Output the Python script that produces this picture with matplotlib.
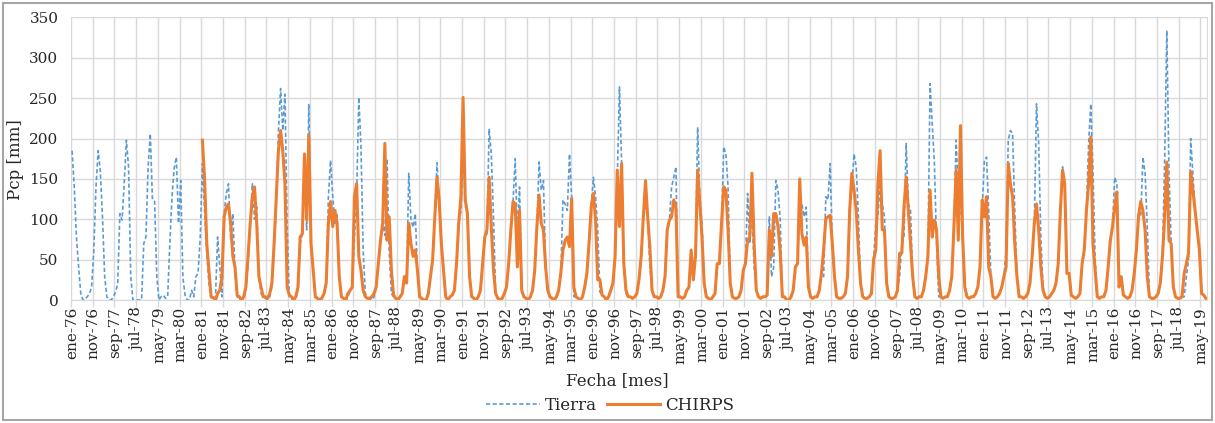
import numpy as np
import matplotlib
matplotlib.use('Agg')
import matplotlib.pyplot as plt
from matplotlib.patches import Rectangle

# Precipitación mensual [mm], ene-1976 ... jul-2019 (una fila por año)
tierra = [
    185, 140, 78, 41, 8, 0, 2, 4, 8, 16, 62, 140,      # 1976
    185, 160, 103, 29, 4, 0, 0, 4, 10, 20, 107, 99,    # 1977
    144, 198, 165, 29, 0, 0, 0, 0, 0, 70, 78, 165,     # 1978
    206, 124, 122, 29, 0, 4, 6, 2, 4, 70, 128, 163,    # 1979
    177, 95, 148, 29, 6, 0, 0, 12, 4, 29, 33, 78,      # 1980
    169, 110, 60, 20, 4, 0, 2, 78, 41, 4, 107, 132,    # 1981
    144, 74, 107, 37, 4, 0, 0, 2, 10, 45, 95, 144,     # 1982
    100, 115, 29, 8, 4, 2, 0, 4, 16, 60, 119, 210,     # 1983
    262, 210, 255, 95, 4, 2, 0, 2, 12, 70, 82, 165,    # 1984
    87, 243, 70, 37, 4, 2, 0, 4, 8, 21, 128, 173,      # 1985
    128, 95, 107, 29, 4, 2, 0, 4, 12, 16, 78, 128,     # 1986
    251, 190, 62, 8, 4, 2, 0, 4, 16, 45, 74, 95,       # 1987
    80, 175, 60, 8, 4, 2, 0, 4, 8, 29, 21, 157,        # 1988
    100, 90, 107, 37, 4, 2, 0, 0, 8, 29, 50, 103,      # 1989
    170, 124, 70, 37, 4, 0, 4, 6, 12, 45, 95, 110,     # 1990
    175, 130, 107, 29, 4, 2, 0, 4, 12, 45, 78, 82,     # 1991
    212, 181, 103, 8, 2, 0, 2, 8, 16, 45, 87, 122,     # 1992
    175, 80, 140, 12, 4, 2, 0, 4, 12, 37, 91, 171,     # 1993
    136, 148, 41, 12, 4, 2, 0, 4, 12, 33, 124, 119,    # 1994
    111, 181, 128, 4, 4, 2, 0, 4, 16, 33, 70, 115,     # 1995
    152, 128, 87, 10, 6, 4, 0, 4, 12, 21, 54, 150,     # 1996
    264, 170, 45, 8, 4, 4, 2, 4, 8, 25, 54, 103,       # 1997
    115, 103, 41, 12, 4, 4, 2, 4, 12, 29, 87, 99,      # 1998
    140, 152, 165, 4, 4, 2, 4, 12, 16, 62, 25, 54,     # 1999
    214, 128, 95, 21, 4, 2, 0, 4, 8, 45, 45, 95,       # 2000
    190, 181, 140, 21, 4, 2, 2, 4, 12, 37, 45, 132,    # 2001
    70, 111, 40, 12, 4, 2, 4, 4, 6, 103, 29, 40,       # 2002
    148, 136, 100, 8, 4, 0, 0, 4, 12, 41, 45, 119,     # 2003
    119, 103, 115, 16, 4, 2, 4, 4, 12, 33, 29, 128,    # 2004
    124, 169, 70, 29, 4, 2, 2, 4, 8, 29, 111, 140,     # 2005
    181, 165, 103, 21, 4, 2, 2, 4, 8, 50, 95, 103,     # 2006
    144, 119, 103, 21, 4, 2, 2, 4, 12, 29, 70, 78,     # 2007
    194, 119, 111, 29, 4, 2, 4, 4, 12, 29, 54, 268,    # 2008
    218, 169, 70, 4, 4, 2, 4, 4, 12, 29, 91, 198,      # 2009
    136, 120, 78, 16, 4, 2, 4, 4, 8, 16, 41, 115,      # 2010
    173, 177, 111, 29, 4, 2, 4, 8, 16, 29, 60, 198,    # 2011
    210, 206, 111, 29, 4, 4, 2, 4, 8, 21, 54, 95,      # 2012
    243, 194, 78, 16, 4, 2, 4, 8, 12, 21, 45, 111,     # 2013
    165, 144, 40, 33, 6, 4, 2, 4, 8, 45, 62, 111,      # 2014
    194, 243, 161, 50, 4, 2, 4, 4, 12, 41, 74, 91,     # 2015
    152, 144, 16, 29, 6, 4, 2, 4, 12, 33, 62, 105,     # 2016
    103, 177, 157, 91, 4, 2, 2, 4, 8, 21, 54, 173,     # 2017
    334, 160, 70, 16, 4, 2, 2, 4, 4, 29, 50, 200,      # 2018
    157, 111, 87, 62, 8, 6, 2,                         # 2019
]

# CHIRPS empieza en ene-1981
chirps = [
    198, 150, 70, 37, 4, 3, 0, 8, 12, 29, 103, 115,    # 1981
    119, 95, 54, 41, 6, 4, 0, 4, 16, 54, 95, 128,      # 1982
    140, 95, 29, 16, 4, 4, 2, 8, 21, 70, 128, 185,     # 1983
    210, 185, 144, 16, 6, 4, 0, 4, 16, 78, 82, 181,    # 1984
    99, 204, 70, 37, 4, 2, 0, 2, 8, 21, 95, 122,       # 1985
    91, 111, 95, 29, 4, 2, 0, 8, 12, 16, 128, 144,     # 1986
    54, 37, 12, 4, 2, 2, 4, 8, 16, 45, 74, 95,         # 1987
    194, 74, 103, 37, 6, 2, 0, 4, 8, 29, 21, 95,       # 1988
    70, 54, 62, 37, 4, 2, 0, 0, 8, 29, 50, 103,        # 1989
    152, 124, 70, 37, 4, 0, 4, 6, 12, 45, 95, 128,     # 1990
    251, 124, 107, 29, 4, 2, 0, 4, 12, 45, 78, 87,     # 1991
    152, 91, 37, 8, 2, 0, 2, 8, 16, 45, 87, 122,       # 1992
    119, 41, 111, 12, 4, 2, 0, 4, 12, 37, 91, 130,     # 1993
    95, 87, 41, 12, 4, 2, 0, 4, 12, 33, 62, 74,        # 1994
    78, 66, 126, 16, 4, 2, 0, 4, 16, 33, 70, 115,      # 1995
    132, 99, 25, 25, 6, 4, 0, 4, 12, 21, 54, 161,      # 1996
    91, 169, 45, 12, 4, 4, 2, 4, 8, 25, 54, 103,       # 1997
    148, 103, 66, 12, 4, 4, 2, 4, 12, 29, 87, 99,      # 1998
    103, 124, 115, 4, 4, 2, 4, 12, 16, 62, 25, 54,     # 1999
    161, 119, 78, 21, 4, 2, 0, 4, 8, 45, 45, 95,       # 2000
    140, 136, 87, 21, 4, 2, 2, 4, 12, 37, 45, 74,      # 2001
    78, 157, 70, 12, 4, 2, 4, 4, 6, 87, 54, 107,       # 2002
    107, 91, 60, 4, 4, 0, 0, 4, 12, 41, 45, 150,       # 2003
    82, 68, 78, 16, 4, 2, 4, 4, 12, 33, 62, 101,       # 2004
    103, 105, 70, 29, 4, 2, 2, 4, 8, 29, 111, 157,     # 2005
    136, 111, 62, 21, 4, 2, 2, 4, 8, 50, 62, 144,      # 2006
    185, 87, 87, 21, 4, 2, 2, 4, 12, 58, 58, 115,      # 2007
    152, 111, 70, 29, 4, 2, 4, 4, 12, 29, 54, 136,     # 2008
    78, 99, 87, 29, 4, 2, 4, 4, 12, 29, 91, 161,       # 2009
    74, 216, 78, 16, 4, 2, 4, 4, 8, 16, 41, 124,       # 2010
    103, 128, 41, 29, 4, 2, 4, 8, 16, 29, 41, 169,     # 2011
    144, 128, 70, 29, 4, 4, 2, 4, 8, 21, 54, 95,       # 2012
    119, 87, 41, 12, 4, 2, 4, 8, 12, 21, 45, 111,      # 2013
    161, 144, 33, 33, 6, 4, 2, 4, 8, 45, 62, 111,      # 2014
    144, 202, 70, 37, 4, 2, 4, 4, 12, 41, 74, 91,      # 2015
    115, 134, 16, 29, 6, 4, 2, 4, 12, 33, 62, 105,     # 2016
    122, 111, 87, 29, 4, 2, 2, 4, 8, 21, 54, 103,      # 2017
    171, 74, 70, 16, 4, 2, 2, 4, 33, 45, 58, 159,      # 2018
    136, 111, 87, 62, 8, 6, 2,                         # 2019
]
CHIRPS_START = 60   # meses desde ene-76

meses = ['ene', 'feb', 'mar', 'abr', 'may', 'jun',
         'jul', 'ago', 'sep', 'oct', 'nov', 'dic']
ANIO0 = 1976
PASO = 10

n = len(tierra)
x = np.arange(n)
x_ch = np.arange(CHIRPS_START, CHIRPS_START + len(chirps))

pos_lab = np.arange(0, n, PASO)
etiquetas = [f"{meses[m % 12]}-{(ANIO0 + m // 12) % 100:02d}" for m in pos_lab]

plt.rcParams['font.family'] = ['DejaVu Serif']

fig = plt.figure(figsize=(12.15, 4.23), dpi=100)
ax = fig.add_axes([71 / 1215, 1 - 300 / 423, (1207 - 71) / 1215, (300 - 17.5) / 423])

grid_c = '#D9D9D9'
txt_c = '#262626'
ax.plot(x, tierra, color='#5B9BD5', lw=1.2, dashes=(2.5, 1.5), label='Tierra', zorder=3)
ax.plot(x_ch, chirps, color='#ED7D31', lw=2.2, label='CHIRPS', zorder=4)

ax.set_xlim(-0.5, n - 0.5)
ax.set_ylim(0, 350)
ax.set_yticks(np.arange(0, 351, 50))

# gridlines entre categorías, etiquetas centradas en la categoría
ax.set_xticks(np.arange(-0.5, n, PASO))
ax.set_xticklabels([])
ax.set_xticks(pos_lab, minor=True)
ax.set_xticklabels(etiquetas, minor=True, rotation=90)
ax.tick_params(axis='x', which='major', length=5, color=grid_c, width=1)
ax.tick_params(axis='x', which='minor', length=0, pad=5, labelsize=11, labelcolor=txt_c)
ax.tick_params(axis='y', length=0, pad=9, labelsize=11, labelcolor=txt_c)

ax.grid(True, which='major', color=grid_c, lw=1)
ax.set_axisbelow(True)
for s in ['top', 'left']:
    ax.spines[s].set_visible(False)
ax.spines['bottom'].set_color(grid_c)
ax.spines['right'].set_color(grid_c)

fig.text(16 / 1215, 1 - 160 / 423, 'Pcp [mm]', rotation=90, ha='center', va='center',
         fontsize=12, color=txt_c)
fig.text(617 / 1215, 1 - 381 / 423, 'Fecha [mes]', ha='center', va='center',
         fontsize=12, color=txt_c)

leg = fig.legend(loc='center', bbox_to_anchor=(610 / 1215, 1 - 405 / 423), ncol=2,
                 frameon=False, fontsize=12, handlelength=3.2, columnspacing=0.6,
                 handletextpad=0.3)
for t in leg.get_texts():
    t.set_color(txt_c)

fig.patches.append(Rectangle((3 / 1215, 3 / 423), 1209 / 1215, 417 / 423,
                             transform=fig.transFigure, fill=False,
                             edgecolor='#A6A6A6', lw=1.5))

fig.savefig('out.png', dpi=100)
